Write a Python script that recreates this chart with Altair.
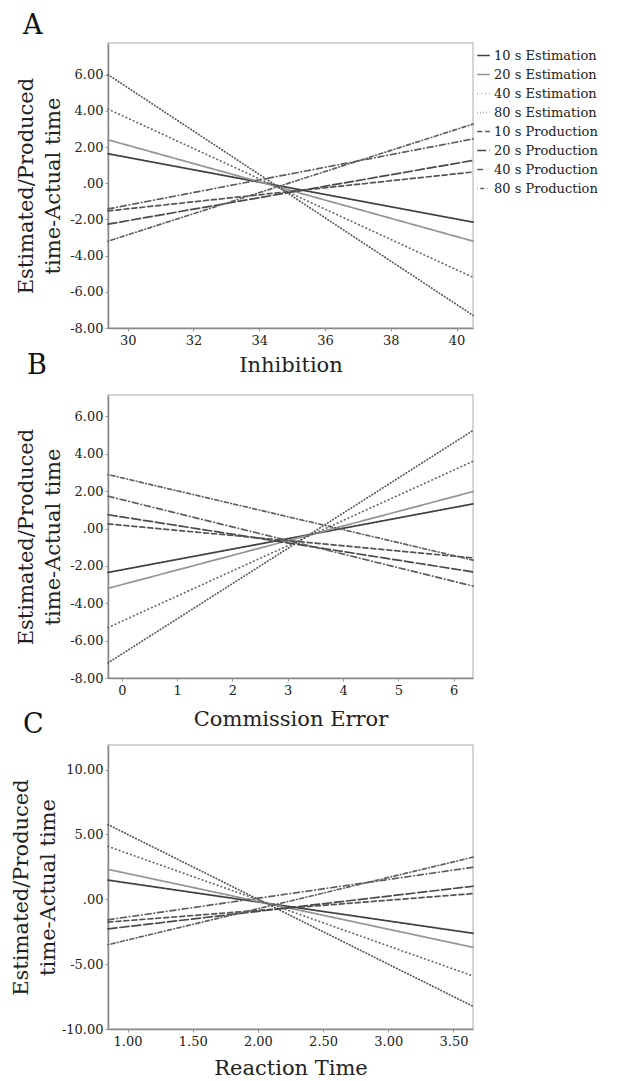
import altair as alt
import pandas as pd

series = ["10 s Estimation", "20 s Estimation", "40 s Estimation", "80 s Estimation",
          "10 s Production", "20 s Production", "40 s Production", "80 s Production"]
line_colors = ["#404040", "#959595", "#666666", "#555555",
               "#555555", "#4a4a4a", "#5e5e5e", "#606060"]
line_dashes = [[1, 0], [1, 0], [0.5, 3.5], [0.5, 2.6],
               [5, 3], [9, 3], [6, 3, 0.5, 3], [0.5, 2.6, 4, 2.6]]
line_widths = [1.7, 1.7, 2.0, 2.1, 1.7, 1.8, 1.8, 2.0]

# Panel A: Inhibition
inhibition_range = [29.4, 40.5]
inhibition_start = [1.63, 2.4, 4.1, 6.0, -1.53, -2.26, -1.42, -3.2]
inhibition_end = [-2.15, -3.2, -5.2, -7.3, 0.62, 1.26, 2.45, 3.27]
inhibition_ticks = [30, 32, 34, 36, 38, 40]

# Panel B: Commission Error
commission_range = [-0.25, 6.35]
commission_start = [-2.35, -3.2, -5.3, -7.19, 0.25, 0.74, 1.73, 2.89]
commission_end = [1.32, 1.98, 3.6, 5.25, -1.57, -2.32, -3.08, -1.69]
commission_ticks = [0, 1, 2, 3, 4, 5, 6]

# Panel C: Reaction Time
reaction_range = [0.85, 3.65]
reaction_start = [1.48, 2.31, 4.08, 5.76, -1.76, -2.28, -1.58, -3.5]
reaction_end = [-2.62, -3.7, -5.91, -8.25, 0.44, 1.01, 2.47, 3.25]
reaction_ticks = [1.0, 1.5, 2.0, 2.5, 3.0, 3.5]

y_title = ["Estimated/Produced", "time-Actual time"]
FONT = "DejaVu Serif"
Y_LABELS = ("datum.value == 0 ? '.00' : "
            "(datum.value < 0 ? '-' : '') + format(abs(datum.value), '.2f')")


def panel(letter, xr, ys, ye, xtitle, xticks, xfmt, ydom, yticks, height,
          t_offset, t_dx, xtitle_pad, ytitle_x, show_legend):
    rows = []
    for s, a, b in zip(series, ys, ye):
        rows.append({"series": s, "x": xr[0], "y": a})
        rows.append({"series": s, "x": xr[1], "y": b})
    df = pd.DataFrame(rows)
    legend = None
    if show_legend:
        legend = alt.Legend(title=None, orient="none", legendX=368, legendY=5,
                            symbolType="stroke", symbolSize=160, symbolStrokeWidth=1.7,
                            labelFont=FONT, labelFontSize=13, labelColor="#222",
                            rowPadding=4, labelOffset=3, padding=0)
    return alt.Chart(df, title=alt.TitleParams(
        letter, anchor="start", frame="group", dx=t_dx, offset=t_offset,
        fontSize=27, font=FONT, fontWeight="normal", color="#111")).mark_line(
        strokeCap="round").encode(
        x=alt.X("x:Q", scale=alt.Scale(domain=xr, nice=False, zero=False),
                axis=alt.Axis(values=xticks, format=xfmt, title=xtitle,
                              titlePadding=xtitle_pad)),
        y=alt.Y("y:Q", scale=alt.Scale(domain=ydom, nice=False, zero=False),
                axis=alt.Axis(values=yticks, title=y_title, titleX=ytitle_x,
                              labelExpr=Y_LABELS)),
        color=alt.Color("series:N", scale=alt.Scale(domain=series, range=line_colors),
                        legend=legend),
        strokeDash=alt.StrokeDash("series:N", scale=alt.Scale(domain=series, range=line_dashes),
                                  legend=legend),
        strokeWidth=alt.StrokeWidth("series:N", scale=alt.Scale(domain=series, range=line_widths),
                                    legend=None),
    ).properties(width=365, height=height)


a = panel("A", inhibition_range, inhibition_start, inhibition_end, "Inhibition",
          inhibition_ticks, "d", [-8, 7.75], [-8, -6, -4, -2, 0, 2, 4, 6], 285,
          3, -85, 7, -72, True)
b = panel("B", commission_range, commission_start, commission_end, "Commission Error",
          commission_ticks, "d", [-8, 7.15], [-8, -6, -4, -2, 0, 2, 4, 6], 283,
          15, -81, 11, -72, False)
c = panel("C", reaction_range, reaction_start, reaction_end, "Reaction Time",
          reaction_ticks, ".2f", [-10, 11.9], [-10, -5, 0, 5, 10], 284,
          6, -85, 9, -77, False)

chart = alt.vconcat(a, b, c, spacing=67, bounds="flush").resolve_scale(
    color="independent", strokeDash="independent", strokeWidth="independent"
).properties(
    padding={"left": 1, "top": 3, "right": 0, "bottom": 0}
).configure_view(
    stroke="#c8c8c8", strokeWidth=1.5
).configure_axis(
    grid=False, domainColor="#888888", domainWidth=1.5, tickColor="#999999",
    tickSize=3, labelFont=FONT, labelFontSize=13, labelColor="#222",
    labelPadding=2, titleFont=FONT, titleFontSize=21, titleFontWeight="normal",
    titleColor="#222", titleLineHeight=27
).configure_axisX(
    labelPadding=3
)

chart.save("out.html", embed_options={"renderer": "svg", "actions": False})
